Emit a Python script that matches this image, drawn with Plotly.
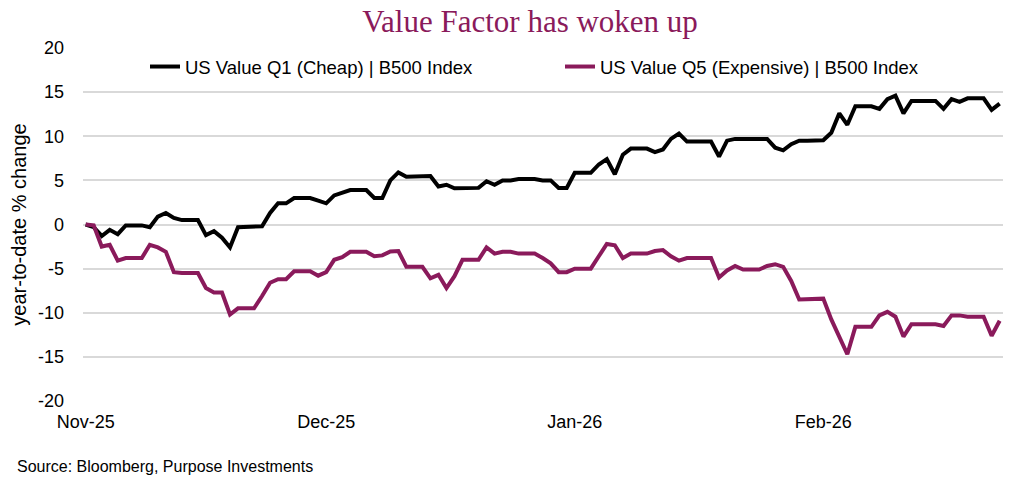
import pandas as pd
import plotly.graph_objects as go

start_date = "2025-11-02"
n_days = 115
dates = pd.date_range(start_date, periods=n_days, freq="D")

q1_cheap = [
    0.0, -0.3, -1.3, -0.6, -1.1, -0.1, -0.1, -0.1, -0.3, 0.9,
    1.3, 0.75, 0.5, 0.5, 0.5, -1.2, -0.75, -1.5, -2.6, -0.3,
    -0.3, -0.3, -0.2, 1.3, 2.4, 2.4, 3.0, 3.0, 3.0, 2.7,
    2.4, 3.3, 3.6, 3.9, 3.9, 3.9, 3.0, 3.0, 5.0, 5.9,
    5.4, 5.4, 5.4, 5.5, 4.3, 4.5, 4.1, 4.15, 4.15, 4.15,
    4.9, 4.5, 5.0, 5.0, 5.15, 5.15, 5.15, 5.0, 5.0, 4.15,
    4.15, 5.85, 5.85, 5.85, 6.8, 7.4, 5.7, 7.9, 8.6, 8.6,
    8.6, 8.2, 8.5, 9.7, 10.3, 9.4, 9.4, 9.4, 9.4, 7.7,
    9.5, 9.7, 9.7, 9.7, 9.7, 9.7, 8.7, 8.4, 9.1, 9.5,
    9.5, 9.5, 9.55, 10.4, 12.6, 11.3, 13.4, 13.4, 13.4, 13.1,
    14.2, 14.6, 12.6, 14.0, 14.0, 14.0, 14.0, 13.1, 14.2, 13.9,
    14.3, 14.3, 14.3, 13.0, 13.7,
]

q5_expensive = [
    0.0, -0.1, -2.5, -2.3, -4.1, -3.8, -3.8, -3.8, -2.3, -2.6,
    -3.1, -5.4, -5.5, -5.5, -5.5, -7.2, -7.7, -7.7, -10.2, -9.5,
    -9.5, -9.5, -8.1, -6.6, -6.2, -6.2, -5.3, -5.3, -5.3, -5.8,
    -5.4, -4.0, -3.7, -3.1, -3.1, -3.1, -3.6, -3.5, -3.05, -3.0,
    -4.8, -4.8, -4.8, -6.1, -5.7, -7.2, -5.85, -4.0, -4.0, -4.0,
    -2.6, -3.3, -3.1, -3.1, -3.3, -3.3, -3.3, -3.8, -4.4, -5.4,
    -5.4, -5.0, -5.0, -5.0, -3.6, -2.2, -2.35, -3.8, -3.3, -3.3,
    -3.3, -3.0, -2.9, -3.6, -4.1, -3.8, -3.8, -3.8, -3.8, -6.0,
    -5.2, -4.7, -5.1, -5.1, -5.1, -4.7, -4.5, -4.8, -6.4, -8.5,
    -8.5, -8.5, -8.4, -10.75, -12.6, -14.7, -11.6, -11.6, -11.6, -10.3,
    -9.9, -10.45, -12.7, -11.3, -11.3, -11.3, -11.3, -11.5, -10.3, -10.3,
    -10.45, -10.45, -10.45, -12.6, -10.9,
]

series_names = ["US Value Q1 (Cheap) | B500 Index", "US Value Q5 (Expensive) | B500 Index"]
tick_dates = ["2025-11-02", "2025-12-02", "2026-01-02", "2026-02-02"]
tick_labels = ["Nov-25", "Dec-25", "Jan-26", "Feb-26"]
y_ticks = [-20, -15, -10, -5, 0, 5, 10, 15, 20]
y_tick_labels = ["-20", "-15", "-10", "-5", "0", "5", "10", "15", "20"]

BLACK = "#000000"
PURPLE = "#8A1A5B"
GRID = "#D9D9D9"
FONT = "Liberation Sans, Arial, sans-serif"

W, H = 1024, 483
ML, MR, MT, MB = 83, 21, 48, 82
plot_w = W - ML - MR
plot_h = H - MT - MB

fig = go.Figure()
fig.add_trace(go.Scatter(x=dates, y=q1_cheap, mode="lines", name=series_names[0],
                         line=dict(color=BLACK, width=4)))
fig.add_trace(go.Scatter(x=dates, y=q5_expensive, mode="lines", name=series_names[1],
                         line=dict(color=PURPLE, width=4)))

x_range = [pd.Timestamp(start_date) - pd.Timedelta(hours=8),
           dates[-1] + pd.Timedelta(hours=10)]

fig.update_layout(
    width=W, height=H,
    margin=dict(l=ML, r=MR, t=MT, b=MB, autoexpand=False),
    paper_bgcolor="white", plot_bgcolor="white",
    font=dict(family=FONT, size=18, color="#000000"),
    title=dict(text="Value Factor has woken up", x=530 / W, xref="container", xanchor="center",
               y=1 - 21 / H, yref="container", yanchor="middle",
               font=dict(family="Georgia, Liberation Serif, serif", size=31, color=PURPLE)),
    showlegend=True,
    legend=dict(orientation="h", x=(145 - ML) / plot_w, xanchor="left",
                y=1 - (67 - MT) / plot_h, yanchor="middle",
                xref="paper", yref="paper", bgcolor="rgba(0,0,0,0)",
                font=dict(family=FONT, size=18.5, color="#000000"),
                entrywidth=370, entrywidthmode="pixels"),
    xaxis=dict(type="date", range=x_range, tickvals=tick_dates, ticktext=tick_labels,
               showgrid=False, zeroline=False, showline=False, ticks="",
               ticklabelstandoff=8, tickfont=dict(size=18), automargin=False),
    xaxis2=dict(type="date", range=x_range, tickvals=tick_dates, overlaying="x",
                anchor="free", position=0.5, showline=True, linecolor=GRID, linewidth=2,
                ticks="outside", ticklen=6, tickwidth=1.5, tickcolor=GRID,
                showticklabels=False, showgrid=False, zeroline=False, automargin=False),
    yaxis=dict(range=[-20, 20], tickvals=y_ticks, ticktext=y_tick_labels,
               showgrid=True, gridcolor=GRID, gridwidth=2,
               zeroline=False, showline=False, ticks="", ticklabelstandoff=18,
               tickfont=dict(size=18), automargin=False,
               title=dict(text="year-to-date % change", font=dict(size=20), standoff=5)),
    annotations=[dict(text="Source: Bloomberg, Purpose Investments",
                      x=(15 - ML) / plot_w, xref="paper",
                      y=(H - MB - 466) / plot_h, yref="paper",
                      showarrow=False, xanchor="left", yanchor="middle",
                      font=dict(family=FONT, size=16, color="#000000"))],
)

fig.write_html("out.html",
               config={"displayModeBar": False},
               post_script="document.body.style.margin='0';document.body.style.padding='0';")
